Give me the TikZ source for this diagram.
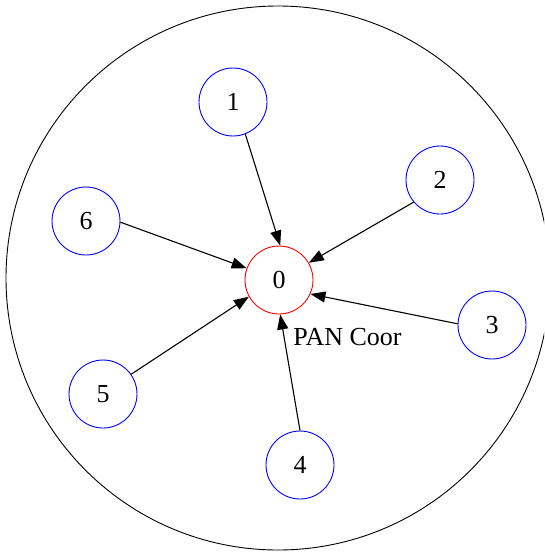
\documentclass[tikz,border=0pt]{standalone}
\usepackage{fontspec}
\setmainfont{Liberation Serif}
\usetikzlibrary{arrows.meta}
\begin{document}
\begin{tikzpicture}[x=1pt,y=-1pt,
  station/.style={circle,draw=blue,line width=0.9pt,minimum size=68pt,inner sep=0pt,
    font=\fontsize{26}{30}\selectfont},
  coord/.style={station,draw=red},
  link/.style={line width=1.1pt,-{Triangle[length=15pt,width=11pt]}},
  lbl/.style={font=\fontsize{26}{30}\selectfont,inner sep=0pt}]
  \useasboundingbox (0,0) rectangle (544,552);
  \clip (0,0) rectangle (544,552);
  % network coverage area
  \draw[line width=0.9pt] (278,278) circle (272);
  % coordinator and devices
  \node[coord] (n0) at (279,280) {0};
  \node[station] (n1) at (233,102) {1};
  \node[station] (n2) at (440,180) {2};
  \node[station] (n3) at (492,325) {3};
  \node[station] (n4) at (300,465) {4};
  \node[station] (n5) at (103,394) {5};
  \node[station] (n6) at (86,221) {6};
  \node[lbl] (cap) at (347.5,337) {PAN Coor};
  % links toward the coordinator
  \draw[link] (n1.-69)  -- (n0.88);
  \draw[link] (n2.220)  -- (n0.30);
  \draw[link] (n3.178)  -- (n0.-24);
  \draw[link] (n4.90)   -- (n0.-88);
  \draw[link] (n5.35)   -- (n0.209);
  \draw[link] (n6.-2)   -- (n0.160);
\end{tikzpicture}
\end{document}
